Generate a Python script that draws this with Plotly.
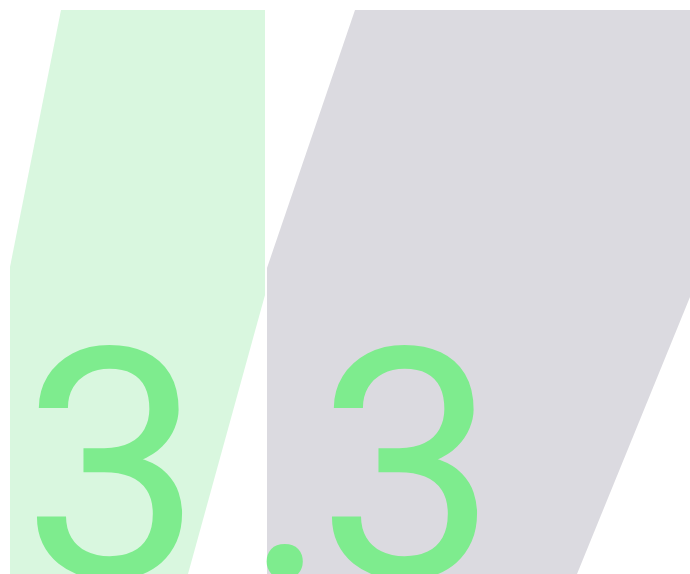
import plotly.graph_objects as go

# Shape outlines (pixel space, y grows downward)
green_x = [61, 265, 265, 188, 10, 10]
green_y = [10, 10, 295, 574, 574, 267]
gray_x = [355, 807, 577, 267, 267]
gray_y = [10, 10, 574, 574, 268]

# Big value labels
labels = ["3", ".", "3"]
label_x = [21, 243, 316]
label_y = [277, 277, 277]

GREEN_LIGHT = "#D9F7DF"
GRAY = "#DBDAE0"
GREEN = "#7EEC8E"

fig = go.Figure()
fig.add_trace(go.Scatter(x=green_x, y=green_y, fill="toself", fillcolor=GREEN_LIGHT,
                         mode="lines", line=dict(width=0, color=GREEN_LIGHT), hoverinfo="skip"))
fig.add_trace(go.Scatter(x=gray_x, y=gray_y, fill="toself", fillcolor=GRAY,
                         mode="lines", line=dict(width=0, color=GRAY), hoverinfo="skip"))

for t, x, y in zip(labels, label_x, label_y):
    fig.add_annotation(x=x, y=y, text=t, showarrow=False, xref="x", yref="y",
                       xanchor="left", yanchor="top", borderpad=0,
                       font=dict(family="Roboto", size=322, color=GREEN))

fig.update_layout(
    width=690, height=574,
    margin=dict(l=0, r=0, t=0, b=0),
    paper_bgcolor="white", plot_bgcolor="white",
    showlegend=False,
    xaxis=dict(range=[0, 690], visible=False, fixedrange=True),
    yaxis=dict(range=[574, 0], visible=False, fixedrange=True),
)
fig.write_html(
    "out.html",
    config={"displayModeBar": False},
    post_script="document.body.style.margin='0';document.body.style.overflow='hidden';",
)
